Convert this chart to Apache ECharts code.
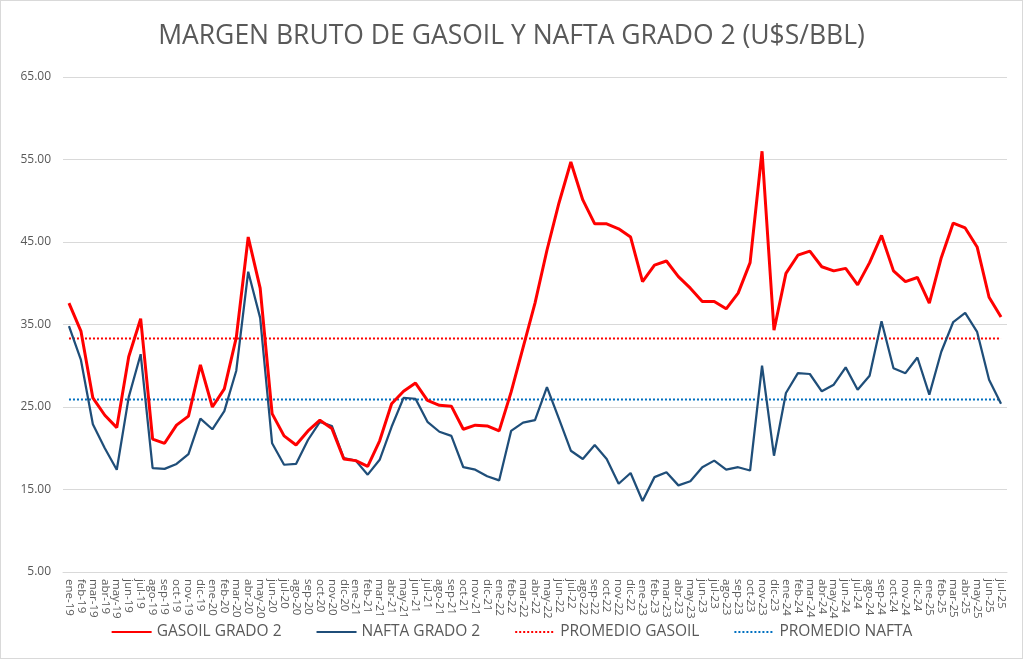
<!DOCTYPE html>
<html>
<head>
<meta charset="utf-8">
<script src="https://cdn.jsdelivr.net/npm/echarts@6/dist/echarts.min.js"></script>
<style>
html,body{margin:0;padding:0;background:#fff;}
#c{width:1021px;height:657px;border:1px solid #d9d9d9;}
</style>
</head>
<body>
<div id="c"></div>
<script>
const months = ['ene','feb','mar','abr','may','jun','jul','ago','sep','oct','nov','dic'];
const categories = [];
for (let y = 19; y <= 25; y++) {
  for (let m = 0; m < 12; m++) {
    if (y === 25 && m > 6) break;
    categories.push(months[m] + '-' + y);
  }
}
const gasoil = [
  37.6, 34.2, 26.1, 24.0, 22.5, 31.1, 35.7, 21.1, 20.6, 22.8, 23.9, 30.1,
  25.0, 27.2, 33.4, 45.6, 39.4, 24.2, 21.5, 20.4, 22.1, 23.4, 22.4, 18.7,
  18.5, 17.8, 20.9, 25.4, 26.9, 27.9, 25.8, 25.2, 25.1, 22.3, 22.8, 22.7,
  22.1, 26.8, 32.2, 37.6, 44.0, 49.7, 54.7, 50.1, 47.2, 47.2, 46.6, 45.6,
  40.2, 42.2, 42.7, 40.8, 39.4, 37.8, 37.8, 36.9, 38.8, 42.5, 56.0, 34.3,
  41.2, 43.4, 43.9, 42.0, 41.5, 41.8, 39.8, 42.5, 45.8, 41.5, 40.2, 40.7,
  37.6, 43.1, 47.3, 46.7, 44.4, 38.3, 35.9
];
const nafta = [
  34.8, 30.7, 22.9, 20.0, 17.4, 26.2, 31.4, 17.6, 17.5, 18.1, 19.3, 23.6,
  22.3, 24.5, 29.4, 41.4, 35.8, 20.6, 18.0, 18.1, 21.0, 23.2, 22.7, 18.8,
  18.5, 16.8, 18.6, 22.6, 26.1, 26.0, 23.2, 22.0, 21.5, 17.7, 17.4, 16.6,
  16.1, 22.1, 23.1, 23.4, 27.4, 23.6, 19.7, 18.7, 20.4, 18.7, 15.7, 17.0,
  13.6, 16.5, 17.1, 15.5, 16.0, 17.7, 18.5, 17.4, 17.7, 17.3, 30.0, 19.1,
  26.7, 29.1, 29.0, 26.9, 27.7, 29.8, 27.1, 28.8, 35.4, 29.7, 29.1, 31.0,
  26.5, 31.7, 35.3, 36.4, 34.1, 28.3, 25.4
];
const promedioGasoil = 33.3;
const promedioNafta = 25.9;
const yTicks = [5, 15, 25, 35, 45, 55, 65];

const chart = echarts.init(document.getElementById('c'));
const txt = '#595959';
const font = '"Open Sans", "Liberation Sans", sans-serif';
chart.setOption({
  animation: false,
  textStyle: { fontFamily: font, color: txt },
  title: {
    text: 'MARGEN BRUTO DE GASOIL Y NAFTA GRADO 2 (U$S/BBL)',
    left: 'center', top: 17,
    textStyle: { fontSize: 26.5, fontWeight: 'normal', color: txt, fontFamily: font }
  },
  legend: {
    bottom: 13, left: 'center', itemWidth: 40, itemHeight: 3, itemGap: 34,
    itemStyle: { color: 'transparent', borderWidth: 0, opacity: 0 },
    textStyle: { fontSize: 15.5, color: txt, fontFamily: font },
    data: ['GASOIL GRADO 2', 'NAFTA GRADO 2', 'PROMEDIO GASOIL', 'PROMEDIO NAFTA']
  },
  grid: { left: 62, right: 15, top: 76, bottom: 86, containLabel: false },
  xAxis: {
    type: 'category', data: categories, boundaryGap: true,
    axisLine: { show: true, lineStyle: { color: '#d9d9d9' } },
    axisTick: { show: false },
    axisLabel: { interval: 0, rotate: -90, fontSize: 11.5, color: txt, margin: 7, fontFamily: font }
  },
  yAxis: {
    type: 'value', min: yTicks[0], max: yTicks[yTicks.length - 1], interval: 10,
    axisLine: { show: false }, axisTick: { show: false },
    axisLabel: { fontSize: 12, color: txt, margin: 12, formatter: v => v.toFixed(2), fontFamily: font },
    splitLine: { lineStyle: { color: '#d9d9d9' } }
  },
  series: [
    { name: 'GASOIL GRADO 2', type: 'line', data: gasoil, symbol: 'none',
      lineStyle: { color: '#ff0000', width: 3 }, itemStyle: { color: '#ff0000' }, z: 4 },
    { name: 'NAFTA GRADO 2', type: 'line', data: nafta, symbol: 'none',
      lineStyle: { color: '#1f4e79', width: 2.25 }, itemStyle: { color: '#1f4e79' }, z: 3 },
    { name: 'PROMEDIO GASOIL', type: 'line', data: categories.map(() => promedioGasoil), symbol: 'none',
      lineStyle: { color: '#ff0000', width: 2, type: [2, 2] }, itemStyle: { color: '#ff0000' }, z: 2 },
    { name: 'PROMEDIO NAFTA', type: 'line', data: categories.map(() => promedioNafta), symbol: 'none',
      lineStyle: { color: '#0070c0', width: 2, type: [2, 2] }, itemStyle: { color: '#0070c0' }, z: 2 }
  ]
});
</script>
</body>
</html>
